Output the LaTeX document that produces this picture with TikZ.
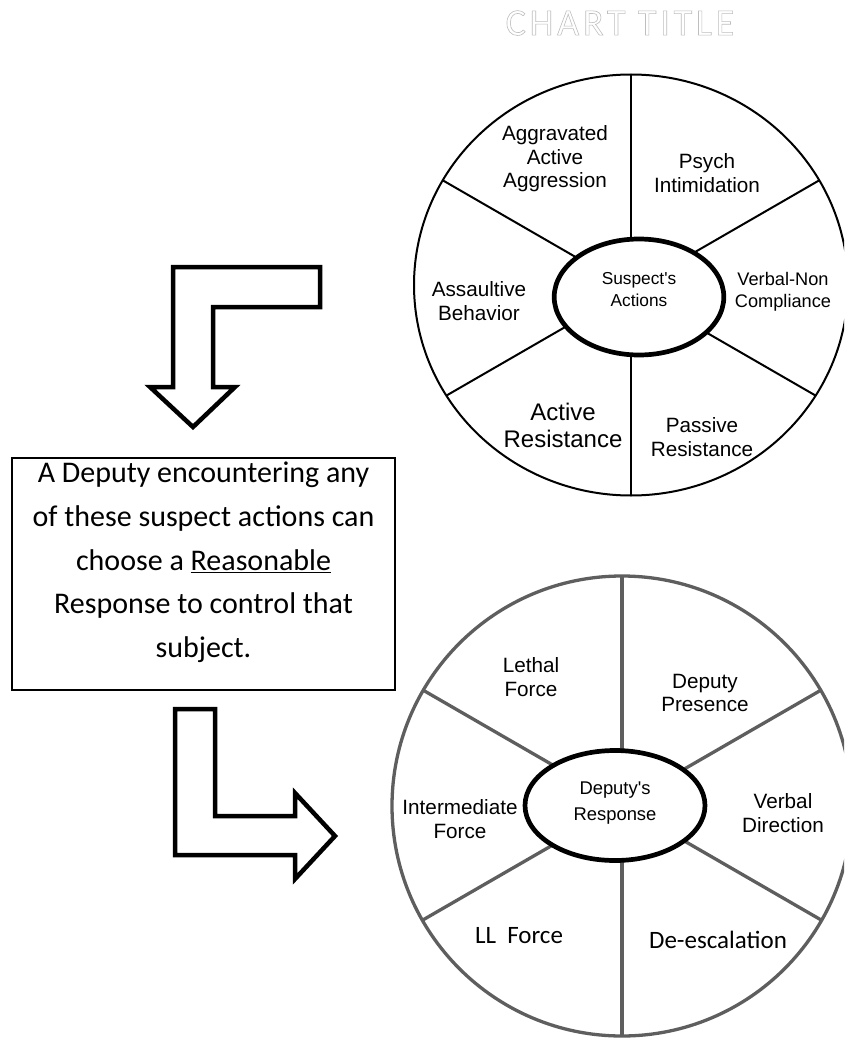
\documentclass[tikz,border=0pt]{standalone}
\usepackage{fontspec}
\setmainfont{Liberation Sans}[Ligatures=TeXOff]
\newfontfamily\calib{Carlito}
\newfontfamily\titlefont[LetterSpace=10]{Carlito}
\usetikzlibrary{shapes.geometric}
\definecolor{rimgray}{HTML}{5E5E5E}
\definecolor{titlegray}{HTML}{BEBEBE}
\begin{document}
\begin{tikzpicture}[x=1pt,y=-1pt,
  lbl/.style={align=center,inner sep=0pt,font=\fontsize{20.7}{23.5}\selectfont},
  biglbl/.style={align=center,inner sep=0pt,font=\fontsize{24}{27}\selectfont},
  hublbl/.style={align=center,inner sep=0pt,font=\fontsize{17.3}{22}\selectfont},
  hublblb/.style={align=center,inner sep=0pt,font=\fontsize{18.4}{26}\selectfont},
  callbl/.style={align=center,inner sep=0pt,font=\calib\fontsize{25}{30}\selectfont},
  hub/.style={draw=black,line width=4.7pt,fill=white,ellipse,inner sep=0pt},
  blockarrow/.style={draw=black,line width=4.5pt,fill=white,line join=miter},
  topspoke/.style={draw=black,line width=2pt},
  botspoke/.style={draw=rimgray,line width=3.3pt}]
\useasboundingbox (0,0) rectangle (844,1038);
\clip (0,0) rectangle (844,1038);
\fill[white] (0,0) rectangle (844,1038);

% ---------- title ----------
\node[inner sep=0pt,text=titlegray,font=\titlefont\fontsize{38}{40}\selectfont] (title) at (620,23)
  {\special{pdf:literal direct 1 Tr 0.6 w}CHART TITLE\special{pdf:literal direct 0 Tr}};

% ---------- top wheel ----------
\coordinate (thub) at (631,289);
\coordinate (tc) at (631,285);
\begin{scope}
  \clip (tc) ellipse [x radius=217, y radius=210.5];
  \foreach \a in {30,90,150,210,270,330}
    \draw[topspoke] (thub) -- ++(\a:320);
\end{scope}
\draw[black,line width=2pt] (tc) ellipse [x radius=217, y radius=210.5];
\node[hub,minimum width=169.6pt,minimum height=116pt] (sa) at (639,297) {};
\node[hublbl] (satext) at (639,290) {Suspect's\\Actions};

\node[lbl] (aaa) at (555,159) {Aggravated\\Active\\Aggression};
\node[lbl] (psy) at (707,173) {Psych\\Intimidation};
\node[lbl,font=\fontsize{18.2}{21.5}\selectfont] (vnc) at (783,292) {Verbal-Non\\Compliance};
\node[lbl] (asb) at (479,301) {Assaultive\\Behavior};
\node[biglbl] (acr) at (563,425) {Active\\Resistance};
\node[lbl] (pas) at (702,437) {Passive\\Resistance};

% ---------- bottom wheel ----------
\coordinate (bhub) at (622,805);
\coordinate (bc) at (622,806);
\begin{scope}
  \clip (bc) circle [radius=230];
  \foreach \a in {30,90,150,210,270,330}
    \draw[botspoke] (bhub) -- ++(\a:320);
\end{scope}
\draw[rimgray,line width=3.3pt] (bc) circle [radius=230];
\node[hub,minimum width=180pt,minimum height=110pt] (dr) at (615,805.5) {};
\node[hublblb] (drtext) at (615,803) {Deputy's\\Response};

\node[lbl] (lf) at (531,677) {Lethal\\Force};
\node[lbl] (dp) at (705,693) {Deputy\\Presence};
\node[lbl] (imf) at (460,819) {Intermediate\\Force};
\node[lbl] (vd) at (783,813) {Verbal\\Direction};
\node[callbl] (llf) at (519,936) {LL\ \ Force};
\node[callbl] (dee) at (718,940) {De-escalation};

% ---------- text box ----------
\node[draw=black,line width=1.5pt,minimum width=383pt,minimum height=232pt,inner sep=0pt] (box) at (203.5,574) {};
\node[align=center,inner sep=0pt,font=\calib\fontsize{30}{43.7}\selectfont] (boxtext) at (203.5,562.5)
  {A Deputy encountering any\\of these suspect actions can\\choose a \underline{Reasonable}\\Response to control that\\subject.};

% ---------- block arrows ----------
\draw[blockarrow] (173,267) -- (320,267) -- (320,307) -- (213,307) -- (213,387) -- (235,387)
  -- (193,427) -- (150,387) -- (173,387) -- cycle;
\draw[blockarrow] (175,709) -- (215,709) -- (215,816) -- (295,816) -- (295,793) -- (335,836)
  -- (295,879) -- (295,855) -- (175,855) -- cycle;
\end{tikzpicture}
\end{document}
